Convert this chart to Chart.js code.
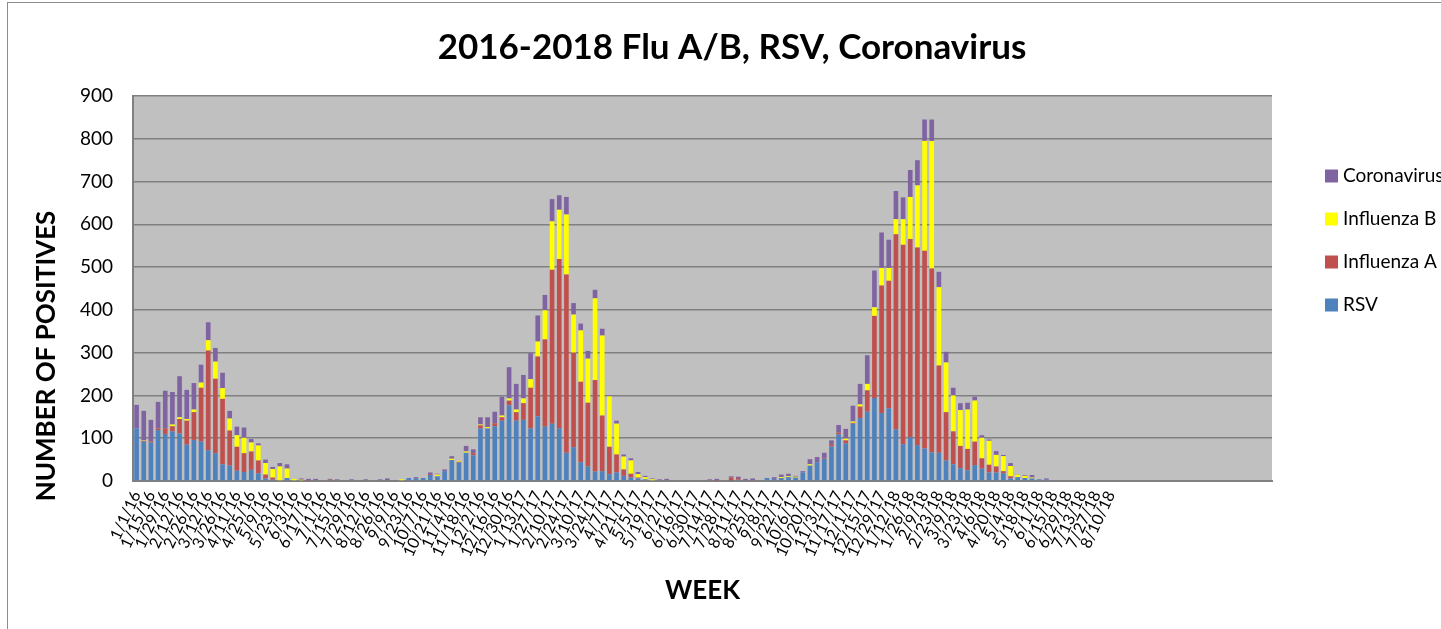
<!DOCTYPE html>
<html>
<head>
<meta charset="utf-8">
<title>2016-2018 Flu A/B, RSV, Coronavirus</title>
<script src="https://cdn.jsdelivr.net/npm/chart.js@4"></script>
<style>
html,body{margin:0;padding:0;background:#fff;overflow:hidden;}
#frame{position:absolute;left:7px;top:2px;width:1470px;height:650px;border:1px solid #8c8c8c;}
#fluChart{position:absolute;left:0;top:0;}
</style>
</head>
<body>
<div id="frame"><canvas id="fluChart" width="1448" height="626"></canvas></div>
<script>
const FONT = "Lato, 'Open Sans', sans-serif";
const chartTitle = "2016-2018 Flu A/B, RSV, Coronavirus";

// every second week gets a label, up to 8/10/18
const weekLabels = [
    "1/1/16","1/15/16","1/29/16","2/12/16","2/26/16","3/12/16","3/26/16","4/11/16","4/25/16","5/9/16",
    "5/23/16","6/3/16","6/17/16","7/1/16","7/15/16","7/29/16","8/12/16","8/26/16","9/9/16","9/23/16",
    "10/7/16","10/21/16","11/4/16","11/18/16","12/2/16","12/16/16","12/30/16","1/13/17","1/27/17","2/10/17",
    "2/24/17","3/10/17","3/24/17","4/7/17","4/21/17","5/5/17","5/19/17","6/2/17","6/16/17","6/30/17",
    "7/14/17","7/28/17","8/11/17","8/25/17","9/8/17","9/22/17","10/6/17","10/20/17","11/3/17","11/17/17",
    "12/1/17","12/15/17","12/29/17","1/12/18","1/26/18","2/9/18","2/23/18","3/9/18","3/23/18","4/6/18",
    "4/20/18","5/4/18","5/18/18","6/1/18","6/15/18","6/29/18","7/13/18","7/27/18","8/10/18"
];
const totalWeeks = 159;   // the axis runs on past the last label with empty weeks

const rsv = [
    123,92,90,119,110,116,111,85,96,92,
    72,65,39,36,24,21,26,18,6,3,
    0,7,0,0,0,0,0,0,0,0,
    0,0,0,0,0,0,0,0,7,6,
    7,14,11,23,49,43,66,60,123,123,
    128,141,177,141,143,123,151,127,134,123,
    66,79,44,34,22,23,16,20,12,8,
    6,4,0,0,0,0,0,0,0,0,
    0,0,0,1,3,0,0,0,7,5,
    7,9,8,20,36,44,52,81,109,88,
    134,147,162,194,159,170,121,86,102,84,
    76,67,66,48,39,30,25,37,29,20,
    20,18,6,9,7,6,4,3,0,0,
    0,0,0,0,0,0,0
];
const fluA = [
    0,2,3,4,13,12,34,56,65,126,
    233,174,153,82,56,44,43,30,9,5,
    0,0,0,0,1,0,0,3,0,0,
    0,0,0,0,0,0,0,0,0,0,
    0,2,0,0,0,2,0,5,7,0,
    7,8,11,20,39,95,140,204,360,396,
    417,221,188,149,214,130,64,42,15,9,
    2,0,0,0,0,0,0,0,0,0,
    0,1,0,7,4,0,2,0,0,0,
    0,0,0,0,0,0,2,5,4,7,
    2,27,50,192,298,298,456,466,464,462,
    462,430,204,113,77,52,50,55,24,18,
    14,5,5,0,0,0,0,0,0,0,
    0,0,0,0,0,0,0
];
const fluB = [
    0,1,0,0,0,4,4,4,6,12,
    24,40,25,28,27,36,21,35,27,20,
    34,22,5,3,0,0,0,0,0,0,
    0,0,0,0,0,0,0,4,0,0,
    0,0,4,0,3,2,3,0,2,3,
    0,4,5,6,11,20,35,68,113,115,
    140,89,120,103,191,187,118,72,30,31,
    8,5,4,0,0,0,0,0,0,0,
    0,0,0,0,0,0,0,0,0,0,
    2,2,2,0,3,0,0,0,0,4,
    3,5,15,20,41,30,35,60,98,145,
    257,298,183,116,84,84,92,96,48,56,
    27,35,24,6,5,2,0,0,0,0,
    0,0,0,0,0,0,0
];
const corona = [
    55,69,50,62,88,76,96,68,62,42,
    42,32,36,18,20,24,8,5,8,5,
    8,10,0,3,4,5,0,2,4,0,
    4,0,4,0,4,6,0,0,0,3,
    0,4,2,4,6,0,13,9,17,23,
    27,44,73,60,55,61,61,36,52,34,
    41,27,16,18,20,16,2,7,5,5,
    5,3,2,4,5,0,0,0,0,0,
    4,4,0,3,3,5,4,0,0,4,
    6,6,2,3,12,12,12,9,18,23,
    37,48,67,86,83,66,66,51,63,59,
    50,50,36,25,18,16,16,9,6,3,
    9,3,7,1,2,6,0,3,0,0,
    0,0,0,0,0,0,0
];

const categories = [];
for(let i = 0; i < totalWeeks; i++){
    const k = i / 2;
    categories.push(i % 2 === 0 && k < weekLabels.length ? weekLabels[k] : "");
}

// grey plot area like the old Excel style
const plotBackground = {
    id: "plotBackground",
    beforeDraw(chart){
        const {ctx, chartArea:a} = chart;
        ctx.save();
        ctx.fillStyle = "#c0c0c0";
        ctx.fillRect(a.left, a.top, a.right - a.left, a.bottom - a.top);
        ctx.restore();
    }
};

// title is centred on the whole chart box, y title sits low, legend runs off the right edge
const sideText = {
    id: "sideText",
    afterDraw(chart){
        const ctx = chart.ctx;
        ctx.save();
        ctx.fillStyle = "#000";
        ctx.textAlign = "center";
        ctx.textBaseline = "middle";
        ctx.font = "bold 35px " + FONT;
        ctx.fillText(chartTitle, 724, 45);

        ctx.font = "bold 26px " + FONT;
        ctx.translate(39, 353);
        ctx.rotate(-Math.PI / 2);
        ctx.fillText("NUMBER OF POSITIVES", 0, 0);
        ctx.restore();

        ctx.save();
        ctx.font = "19px " + FONT;
        ctx.textBaseline = "middle";
        ctx.textAlign = "left";
        const sets = chart.data.datasets.slice().reverse();
        sets.forEach((ds, i) => {
            const y = 173 + i * 43;
            ctx.fillStyle = ds.backgroundColor;
            ctx.fillRect(1317, y - 6.5, 13, 13);
            ctx.fillStyle = "#000";
            ctx.fillText(ds.label, 1335, y);
        });
        ctx.restore();
    }
};

const barStyle = {barPercentage:0.65, categoryPercentage:1, borderWidth:0};

new Chart(document.getElementById("fluChart"), {
    type:"bar",
    data:{
        labels:categories,
        datasets:[
            {label:"RSV", data:rsv, backgroundColor:"#4f81bd", ...barStyle},
            {label:"Influenza A", data:fluA, backgroundColor:"#c0504d", ...barStyle},
            {label:"Influenza B", data:fluB, backgroundColor:"#ffff00", ...barStyle},
            {label:"Coronavirus", data:corona, backgroundColor:"#8064a2", ...barStyle}
        ]
    },
    options:{
        responsive:false,
        animation:false,
        layout:{padding:{left:0, right:184, top:93, bottom:0}},
        plugins:{
            legend:{display:false},
            tooltip:{enabled:false},
            title:{display:false}
        },
        scales:{
            x:{
                stacked:true,
                grid:{display:false, drawTicks:false},
                border:{display:true, color:"#808080", width:2},
                ticks:{autoSkip:false, minRotation:65, maxRotation:65, padding:7, color:"#000", font:{family:FONT, size:16}},
                title:{display:true, text:"WEEK", color:"#000", font:{family:FONT, size:26, weight:"bold"}, padding:{top:0, bottom:23}},
                afterFit:s=>{ s.height = 148; }
            },
            y:{
                stacked:true,
                min:0,
                max:900,
                ticks:{stepSize:100, padding:20, color:"#000", font:{family:FONT, size:19}},
                grid:{color:"#808080", lineWidth:1.5, drawTicks:false},
                border:{color:"#808080", width:2},
                afterFit:s=>{ s.width = 125; }
            }
        }
    },
    plugins:[plotBackground, sideText]
});
</script>
</body>
</html>
